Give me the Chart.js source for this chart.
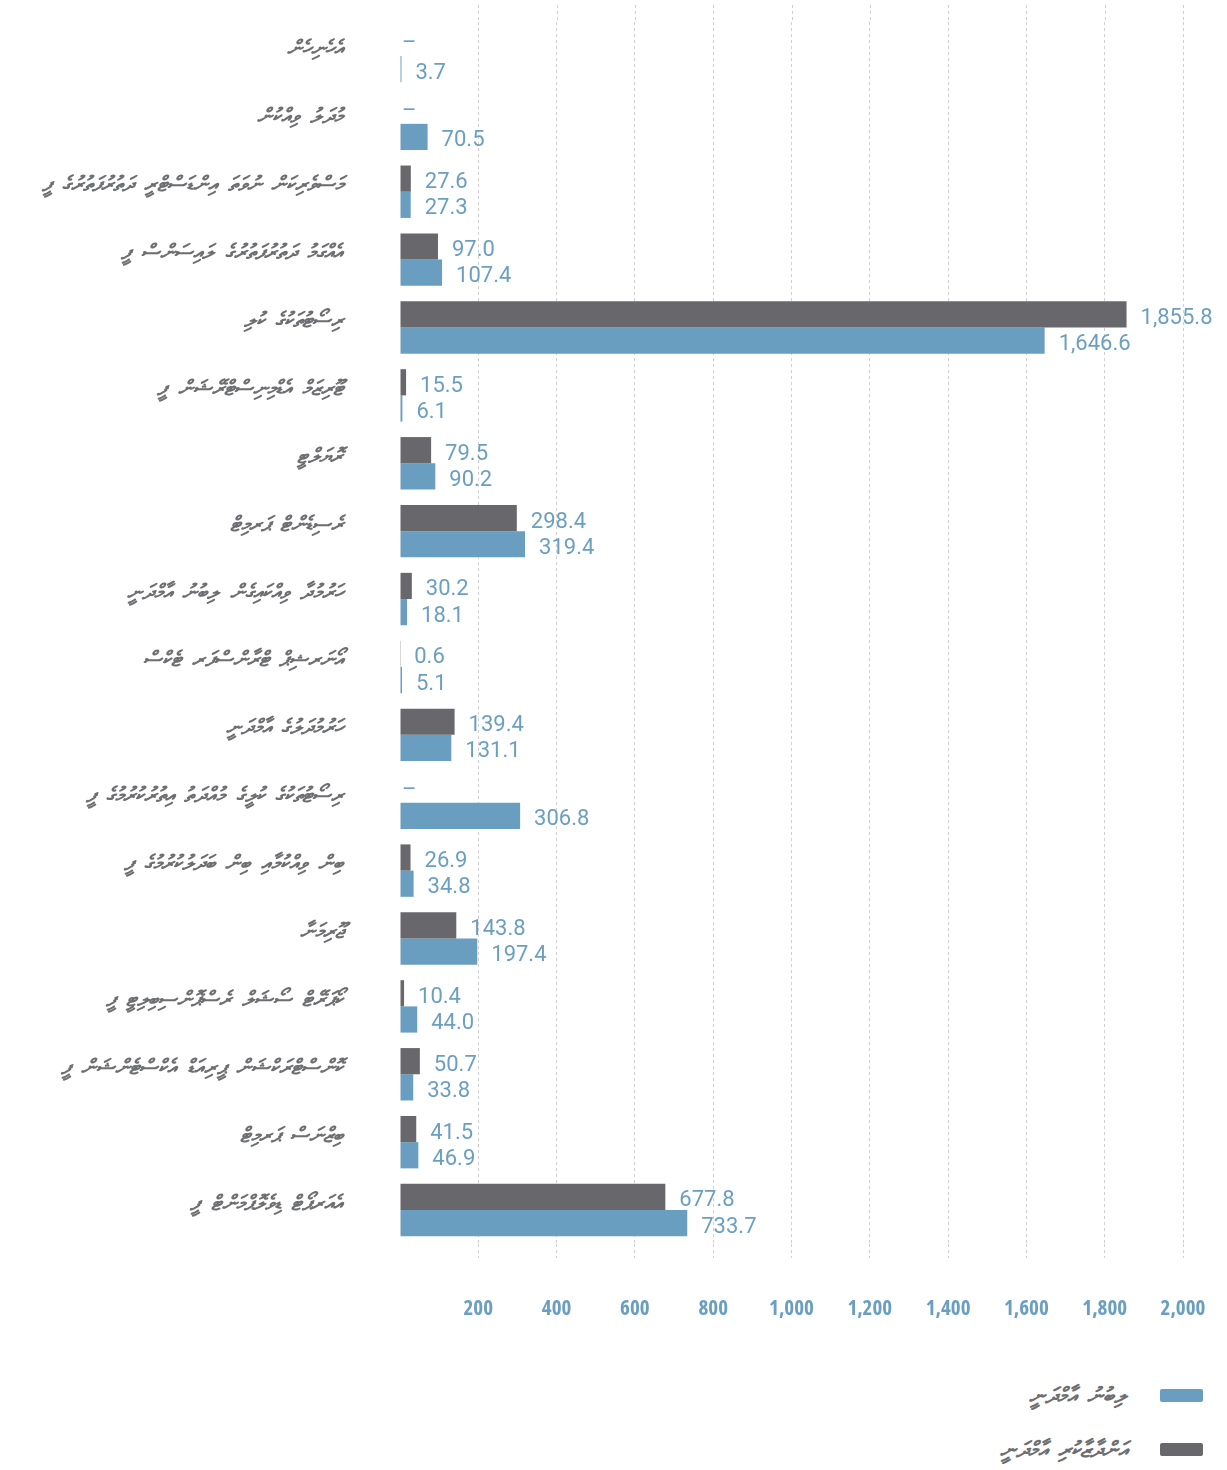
<!DOCTYPE html>
<html>
<head>
<meta charset="utf-8">
<script src="https://cdn.jsdelivr.net/npm/chart.js@4.4.1/dist/chart.umd.min.js"></script>
<style>
  html, body { margin: 0; padding: 0; background: #ffffff; }
  #wrap { position: relative; width: 1227px; height: 1470px; }
  #chartBox { position: absolute; left: 0; top: 0; width: 1227px; height: 1350px; }
  .leg { position: absolute; right: 24px; display: flex; align-items: center; direction: rtl; }
  .leg .sw { width: 43px; height: 13px; border-radius: 2px; margin-left: 33px; }
  .leg .tx { font-family: "DejaVu Sans", "Noto Sans", sans-serif; font-style: italic; font-weight: bold; font-size: 22px; color: #6d6e71; word-spacing: 3px; }
</style>
</head>
<body>
<div id="wrap">
  <div id="chartBox"><canvas id="c"></canvas></div>
  <div class="leg" style="top:1383px;"><div class="sw" style="background:#6a9ec0;"></div><div class="tx" id="leg0"></div></div>
  <div class="leg" style="top:1437px;"><div class="sw" style="background:#68686c;"></div><div class="tx" id="leg1"></div></div>
</div>
<script>
// ---- data ----
const categories = [
  "އެހެނިހެން",
  "މުދަލު ވިއްކުން",
  "މަސްވެރިކަން ނުވަތަ އިންޑަސްޓްރީ ދަތުރުފަތުރުގެ ފީ",
  "އެއްގަމު ދަތުރުފަތުރުގެ ލައިސަންސް ފީ",
  "ރިސޯޓުތަކުގެ ކުލި",
  "ޓޫރިޒަމް އެޑްމިނިސްޓްރޭޝަން ފީ",
  "ރޮޔަލްޓީ",
  "ރެސިޑެންޓް ޕަރމިޓް",
  "ހަރުމުދާ ވިއްކައިގެން ލިބުނު އާމްދަނީ",
  "އޯނަރޝިޕް ޓްރާންސްފަރ ޓެކްސް",
  "ހަރުމުދަލުގެ އާމްދަނީ",
  "ރިސޯޓުތަކުގެ ކުލީގެ މުއްދަތު އިތުރުކުރުމުގެ ފީ",
  "ބިން ވިއްކުމާއި ބިން ބަދަލުކުރުމުގެ ފީ",
  "ޖޫރިމަނާ",
  "ކޯޕަރޭޓް ސޯޝަލް ރެސްޕޮންސިބިލިޓީ ފީ",
  "ކޮންސްޓްރަކްޝަން ޕީރިއަޑް އެކްސްޓެންޝަން ފީ",
  "ބިޒްނަސް ޕަރމިޓް",
  "އެއަރޕޯޓް ޑިވެލޮޕްމަންޓް ފީ"
];
const seriesNames = ["އަންދާޒާކުރި އާމްދަނީ", "ލިބުނު އާމްދަނީ"];
const estimated = [null, null, 27.6, 97.0, 1855.8, 15.5, 79.5, 298.4, 30.2, 0.6, 139.4, null, 26.9, 143.8, 10.4, 50.7, 41.5, 677.8];
const received  = [3.7, 70.5, 27.3, 107.4, 1646.6, 6.1, 90.2, 319.4, 18.1, 5.1, 131.1, 306.8, 34.8, 197.4, 44.0, 33.8, 46.9, 733.7];
const xTicks = [0, 200, 400, 600, 800, 1000, 1200, 1400, 1600, 1800, 2000];

document.getElementById('leg0').textContent = seriesNames[1];
document.getElementById('leg1').textContent = seriesNames[0];

const BLUE = '#6a9ec0';
const GRAY = '#68686c';
const LABEL_BLUE = '#6b9fc1';
const GRID = '#cfcfcf';

const fmt = v => v.toLocaleString('en-US', {minimumFractionDigits: 1, maximumFractionDigits: 1});

const valueLabels = {
  id: 'valueLabels',
  afterDatasetsDraw(chart) {
    const ctx = chart.ctx;
    const xs = chart.scales.x;
    const ys = chart.scales.y;
    ctx.save();
    ctx.font = '22px Roboto, "DejaVu Sans", sans-serif';
    ctx.fillStyle = LABEL_BLUE;
    ctx.textAlign = 'left';
    ctx.textBaseline = 'middle';
    chart.data.datasets.forEach((ds, di) => {
      const meta = chart.getDatasetMeta(di);
      meta.data.forEach((el, i) => {
        const v = ds.data[i];
        if (v === null || v === undefined) {
          const half = ys.getPixelForValue(0.5) - ys.getPixelForValue(0);
          const off = half * 0.772 / 2;
          ctx.fillText('–', xs.getPixelForValue(0) + 2, ys.getPixelForValue(i) + (di === 0 ? -off : off) + 1);
        } else {
          ctx.fillText(fmt(v), el.x + 14, el.y + 4);
        }
      });
    });
    ctx.restore();
  }
};

// extends the library's own x grid lines above the plot area
const gridExtend = {
  id: 'gridExtend',
  beforeDraw(chart) {
    try { chart.ctx.wordSpacing = '3px'; } catch (e) {}
  },
  beforeDatasetsDraw(chart) {
    const ctx = chart.ctx;
    const xs = chart.scales.x;
    const top = chart.chartArea.top;
    ctx.save();
    ctx.strokeStyle = GRID;
    ctx.lineWidth = 1;
    ctx.setLineDash([3, 3]);
    xs.ticks.forEach(t => {
      if (t.value === 0) return;
      const x = Math.round(xs.getPixelForValue(t.value)) + 0.5;
      ctx.beginPath();
      ctx.moveTo(x, 5);
      ctx.lineTo(x, top);
      ctx.stroke();
    });
    ctx.restore();
  }
};

Chart.defaults.animation = false;
new Chart(document.getElementById('c'), {
  type: 'bar',
  data: {
    labels: categories,
    datasets: [
      { label: seriesNames[0], data: estimated, backgroundColor: GRAY, categoryPercentage: 0.772, barPercentage: 1.0 },
      { label: seriesNames[1], data: received, backgroundColor: BLUE, categoryPercentage: 0.772, barPercentage: 1.0 }
    ]
  },
  options: {
    indexAxis: 'y',
    responsive: true,
    maintainAspectRatio: false,
    animation: false,
    layout: { padding: { top: 22, right: 44, left: 0, bottom: 0 } },
    plugins: { legend: { display: false }, tooltip: { enabled: false } },
    scales: {
      x: {
        type: 'linear',
        min: 0, max: 2000,
        afterBuildTicks(scale) { scale.ticks = xTicks.map(v => ({ value: v })); },
        afterFit(scale) { scale.height = 1350 - 1244; scale.paddingLeft = 0; scale.paddingRight = 0; },
        border: { display: false, dash: [3, 3] },
        grid: {
          color: c => (c.tick && c.tick.value === 0) ? 'rgba(0,0,0,0)' : GRID,
          lineWidth: 1,
          drawTicks: true,
          tickLength: 14,
          tickColor: c => (c.tick && c.tick.value === 0) ? 'rgba(0,0,0,0)' : GRID,
          tickBorderDash: [3, 3]
        },
        ticks: {
          padding: 38,
          color: '#6b9fc1',
          font: { family: '"Open Sans", "Noto Sans", Roboto, sans-serif', size: 21, weight: 'bold condensed' },
          callback: v => v === 0 ? '' : v.toLocaleString('en-US')
        }
      },
      y: {
        afterFit(scale) { scale.width = 400; scale.paddingTop = 0; scale.paddingBottom = 0; },
        border: { display: false },
        grid: { display: false, drawTicks: false },
        ticks: {
          padding: 57,
          labelOffset: -6,
          color: '#6d6e71',
          font: { family: '"DejaVu Sans", "Noto Sans", sans-serif', size: 21, style: 'italic', weight: 'bold' }
        }
      }
    }
  },
  plugins: [gridExtend, valueLabels]
});
</script>
</body>
</html>
